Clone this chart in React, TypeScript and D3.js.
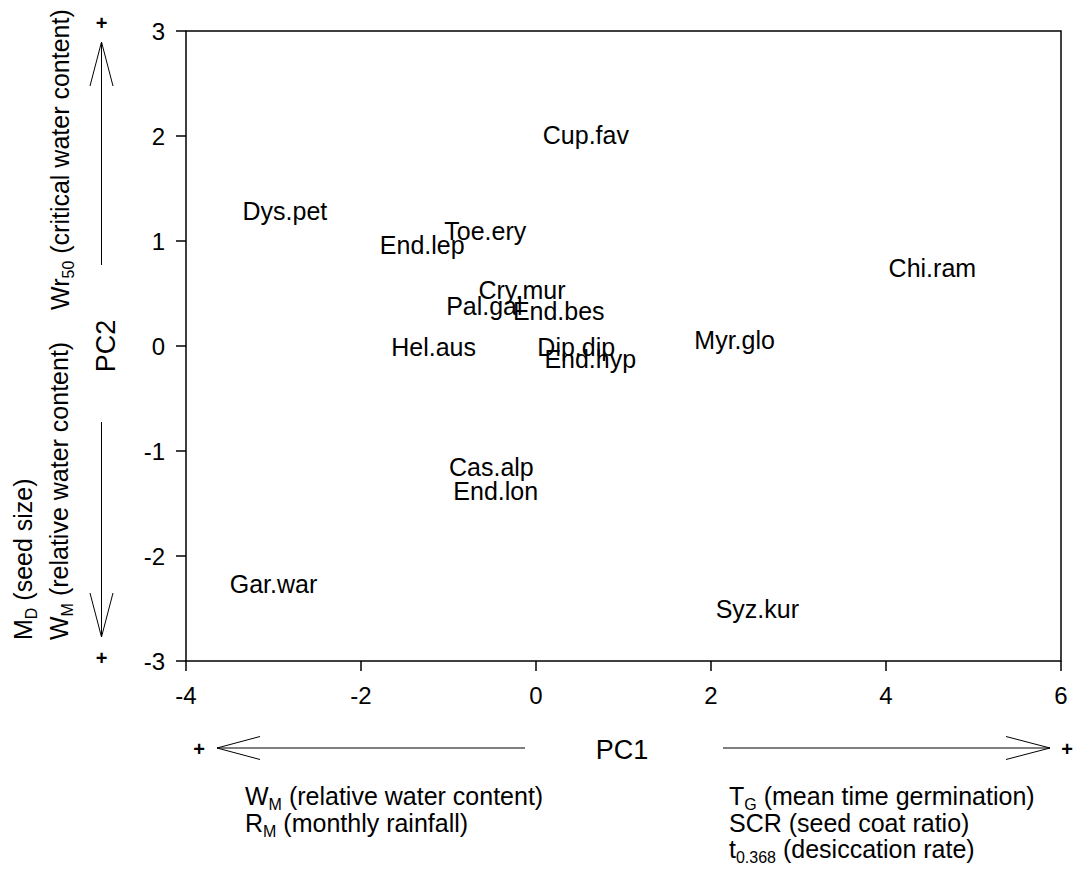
import React from "react";
import * as d3 from "d3";

// PCA scores of each species on the first two components
const species = [
  "Cup.fav", "Dys.pet", "Toe.ery", "End.lep", "Chi.ram", "Cry.mur", "Pal.gal", "End.bes",
  "Hel.aus", "Dip.dip", "End.hyp", "Myr.glo", "Cas.alp", "End.lon", "Gar.war", "Syz.kur",
];
const pc1 = [0.57, -2.87, -0.58, -1.3, 4.53, -0.16, -0.59, 0.26, -1.17, 0.46, 0.62, 2.27, -0.51, -0.46, -3.0, 2.53];
const pc2 = [2.01, 1.29, 1.1, 0.96, 0.74, 0.53, 0.38, 0.33, -0.01, -0.01, -0.12, 0.06, -1.15, -1.38, -2.27, -2.5];

const xTicks = [-4, -2, 0, 2, 4, 6];
const yTicks = [-3, -2, -1, 0, 1, 2, 3];

const W = 1074;
const H = 870;
const plot = { left: 186, right: 1061, top: 31, bottom: 661 };
const FONT = "Arial, 'Liberation Sans', Helvetica, sans-serif";
const FS = 25;
const SUB = 16;

function Sub({ base, sub, rest }: { base: string; sub: string; rest: string }) {
  return (
    <>
      {base}
      <tspan fontSize={SUB} dy={5}>{sub}</tspan>
      <tspan dy={-5}>{rest}</tspan>
    </>
  );
}

export default function App() {
  const x = d3.scaleLinear().domain([-4, 6]).range([plot.left, plot.right]);
  const y = d3.scaleLinear().domain([-3, 3]).range([plot.bottom, plot.top]);
  const stroke = "#000";

  const chevron = (pts: [number, number][]) => d3.line()(pts) as string;

  return (
    <svg
      width={W}
      height={H}
      viewBox={`0 0 ${W} ${H}`}
      style={{ position: "absolute", left: 0, top: 0, background: "#fff" }}
      fontFamily={FONT}
    >
      {/* frame */}
      <rect
        x={plot.left}
        y={plot.top}
        width={plot.right - plot.left}
        height={plot.bottom - plot.top}
        fill="none"
        stroke={stroke}
        strokeWidth={1.5}
      />

      {/* y axis ticks */}
      {yTicks.map((t) => (
        <g key={`y${t}`}>
          <line x1={plot.left - 10} x2={plot.left} y1={y(t)} y2={y(t)} stroke={stroke} strokeWidth={1.5} />
          <text x={165} y={y(t) + 8.8} textAnchor="end" fontSize={24}>
            {String(t)}
          </text>
        </g>
      ))}

      {/* x axis ticks */}
      {xTicks.map((t) => (
        <g key={`x${t}`}>
          <line x1={x(t)} x2={x(t)} y1={plot.bottom} y2={plot.bottom + 10} stroke={stroke} strokeWidth={1.5} />
          <text x={x(t)} y={704} textAnchor="middle" fontSize={24}>
            {String(t)}
          </text>
        </g>
      ))}

      {/* species labels */}
      {species.map((s, i) => (
        <text key={s} x={x(pc1[i])} y={y(pc2[i]) + 9} textAnchor="middle" fontSize={FS}>
          {s}
        </text>
      ))}

      {/* axis titles */}
      <text x={622} y={759} textAnchor="middle" fontSize={27}>PC1</text>
      <text transform="translate(115,346) rotate(-90)" textAnchor="middle" fontSize={27}>PC2</text>

      {/* PC1 direction arrows */}
      <g stroke={stroke} strokeWidth={1} fill="none">
        <line x1={525} x2={217} y1={748} y2={748} />
        <path d={chevron([[260, 736.5], [217, 748], [260, 759.5]])} />
        <line x1={723} x2={1050} y1={748} y2={748} />
        <path d={chevron([[1006, 736.5], [1050, 748], [1006, 759.5]])} />
        {/* PC2 direction arrows */}
        <line x1={101.5} x2={101.5} y1={265} y2={42} />
        <path d={chevron([[90, 86], [101.5, 42], [113, 86]])} />
        <line x1={101.5} x2={101.5} y1={422} y2={637} />
        <path d={chevron([[90, 593], [101.5, 637], [113, 593]])} />
      </g>
      <text x={199} y={756} textAnchor="middle" fontSize={20} fontWeight="bold">+</text>
      <text x={1067} y={756} textAnchor="middle" fontSize={20} fontWeight="bold">+</text>
      <text x={101.5} y={30} textAnchor="middle" fontSize={20} fontWeight="bold">+</text>
      <text x={101.5} y={665} textAnchor="middle" fontSize={20} fontWeight="bold">+</text>

      {/* variables loading on PC1 */}
      <text x={245} y={805} fontSize={FS}>
        <Sub base="W" sub="M" rest=" (relative water content)" />
      </text>
      <text x={245} y={832} fontSize={FS}>
        <Sub base="R" sub="M" rest=" (monthly rainfall)" />
      </text>
      <text x={729} y={805} fontSize={FS}>
        <Sub base="T" sub="G" rest=" (mean time germination)" />
      </text>
      <text x={729} y={832} fontSize={FS}>SCR (seed coat ratio)</text>
      <text x={729} y={858} fontSize={FS}>
        <Sub base="t" sub="0.368" rest=" (desiccation rate)" />
      </text>

      {/* variables loading on PC2 */}
      <text transform="translate(69,310) rotate(-90)" fontSize={FS}>
        <Sub base="Wr" sub="50" rest=" (critical water content)" />
      </text>
      <text transform="translate(32,640) rotate(-90)" fontSize={FS}>
        <Sub base="M" sub="D" rest=" (seed size)" />
      </text>
      <text transform="translate(68,640) rotate(-90)" fontSize={FS}>
        <Sub base="W" sub="M" rest=" (relative water content)" />
      </text>
    </svg>
  );
}
